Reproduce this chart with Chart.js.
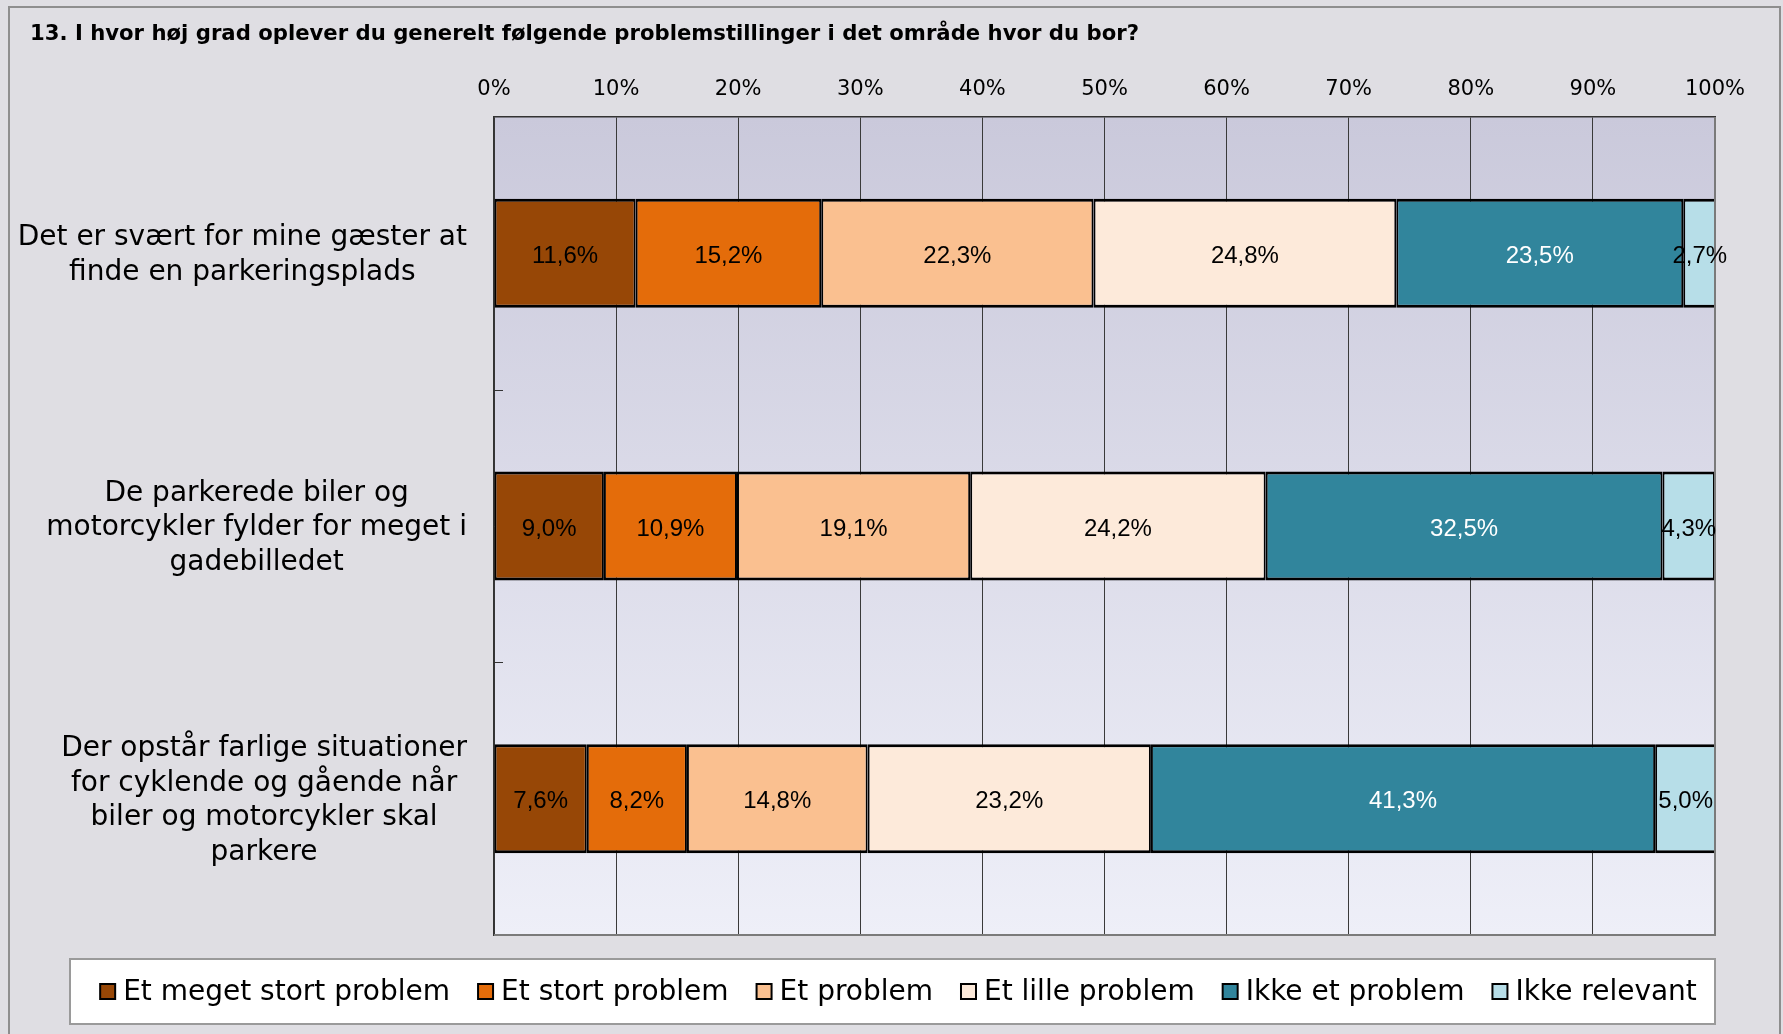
<!DOCTYPE html>
<html>
<head>
<meta charset="utf-8">
<script src="https://cdn.jsdelivr.net/npm/chart.js@4.4.1/dist/chart.umd.min.js"></script>
<style>
  html, body { margin: 0; padding: 0; background: #dfdee3; }
  #wrap { width: 1783px; height: 1034px; }
</style>
</head>
<body>
<div id="wrap"><canvas id="chart" width="1783" height="1034"></canvas></div>
<script>
const title = '13. I hvor høj grad oplever du generelt følgende problemstillinger i det område hvor du bor?';

const categories = [
  ['Det er svært for mine gæster at', 'finde en parkeringsplads'],
  ['De parkerede biler og', 'motorcykler fylder for meget i', 'gadebilledet'],
  ['Der opstår farlige situationer', 'for cyklende og gående når', 'biler og motorcykler skal', 'parkere']
];

const seriesNames = ['Et meget stort problem', 'Et stort problem', 'Et problem', 'Et lille problem', 'Ikke et problem', 'Ikke relevant'];
const seriesColors = ['#974706', '#e46c0a', '#fac090', '#fdeada', '#31859c', '#b7dee8'];
const labelColors = ['#000', '#000', '#000', '#000', '#fff', '#000'];

const meget = [11.6, 9.0, 7.6];
const stort = [15.2, 10.9, 8.2];
const problem = [22.3, 19.1, 14.8];
const lille = [24.8, 24.2, 23.2];
const ikke = [23.5, 32.5, 41.3];
const relevant = [2.7, 4.3, 5.0];
const seriesValues = [meget, stort, problem, lille, ikke, relevant];

const xTicks = [0, 10, 20, 30, 40, 50, 60, 70, 80, 90, 100];

const fmt = v => v.toFixed(1).replace('.', ',') + '%';

// background, frame, plot gradient
const backdrop = {
  id: 'backdrop',
  beforeDraw(chart) {
    const { ctx, chartArea: a, width, height } = chart;
    ctx.save();
    ctx.fillStyle = '#dfdee3';
    ctx.fillRect(0, 0, width, height);
    ctx.strokeStyle = '#8e8e8e';
    ctx.lineWidth = 2;
    ctx.strokeRect(9, 7, 1771, height + 10);
    const g = ctx.createLinearGradient(0, a.top, 0, a.bottom);
    g.addColorStop(0, '#cac9db');
    g.addColorStop(1, '#eeeff8');
    ctx.fillStyle = g;
    ctx.fillRect(a.left, a.top, a.right - a.left, a.bottom - a.top);
    // title
    ctx.fillStyle = '#000';
    ctx.font = 'bold 21.2px "DejaVu Sans"';
    ctx.textBaseline = 'middle';
    ctx.textAlign = 'left';
    ctx.fillText(title, 30, 34);
    ctx.restore();
  },
  afterDraw(chart) {
    const { ctx, chartArea: a, scales } = chart;
    ctx.save();
    // right and bottom plot edges
    ctx.strokeStyle = '#7a7a7a';
    ctx.lineWidth = 2;
    ctx.beginPath();
    ctx.moveTo(a.right, a.top);
    ctx.lineTo(a.right, a.bottom);
    ctx.lineTo(a.left, a.bottom);
    ctx.stroke();
    // inner ticks between categories
    const y = scales.y;
    ctx.strokeStyle = '#333';
    ctx.lineWidth = 1;
    for (let i = 1; i < categories.length; i++) {
      const yy = Math.round((y.getPixelForValue(i - 1) + y.getPixelForValue(i)) / 2) + 0.5;
      ctx.beginPath();
      ctx.moveTo(a.left, yy);
      ctx.lineTo(a.left + 9, yy);
      ctx.stroke();
    }
    // category labels: block right-aligned, lines centred in the block
    ctx.font = '28px "DejaVu Sans"';
    ctx.fillStyle = '#000';
    ctx.textAlign = 'center';
    ctx.textBaseline = 'middle';
    const lh = 34.5;
    categories.forEach((lines, i) => {
      const w = Math.max(...lines.map(l => ctx.measureText(l).width));
      const cx = a.left - 27 - w / 2;
      const cy = y.getPixelForValue(i) + 2;
      lines.forEach((l, j) => {
        ctx.fillText(l, cx, cy + (j - (lines.length - 1) / 2) * lh);
      });
    });
    // data labels
    ctx.font = '24px "Liberation Sans"';
    chart.data.datasets.forEach((ds, di) => {
      const meta = chart.getDatasetMeta(di);
      ctx.fillStyle = labelColors[di];
      meta.data.forEach((bar, i) => {
        const p = bar.getProps(['x', 'y', 'base'], true);
        ctx.fillText(fmt(ds.data[i]), (p.x + p.base) / 2, p.y + 3);
      });
    });
    // legend
    const lx0 = 70, ly0 = 959, lx1 = 1715, ly1 = 1024;
    ctx.fillStyle = '#ffffff';
    ctx.fillRect(lx0, ly0, lx1 - lx0, ly1 - ly0);
    ctx.strokeStyle = '#9a9a9a';
    ctx.lineWidth = 2;
    ctx.strokeRect(lx0, ly0, lx1 - lx0, ly1 - ly0);
    ctx.font = '28px "DejaVu Sans"';
    const box = 15, gapBox = 8, gapItem = 28;
    const widths = seriesNames.map(n => ctx.measureText(n).width);
    const total = widths.reduce((s, w) => s + box + gapBox + w, 0) + gapItem * (seriesNames.length - 1);
    let x = (lx0 + lx1) / 2 - total / 2 + 6;
    const ly = (ly0 + ly1) / 2;
    ctx.textAlign = 'left';
    seriesNames.forEach((n, i) => {
      ctx.fillStyle = seriesColors[i];
      ctx.fillRect(x, ly - box / 2, box, box);
      ctx.strokeStyle = '#000';
      ctx.lineWidth = 2;
      ctx.strokeRect(x, ly - box / 2, box, box);
      ctx.fillStyle = '#000';
      ctx.fillText(n, x + box + gapBox, ly + 1);
      x += box + gapBox + widths[i] + gapItem;
    });
    ctx.restore();
  }
};

new Chart(document.getElementById('chart'), {
  type: 'bar',
  data: {
    labels: categories,
    datasets: seriesNames.map((name, i) => ({
      label: name,
      data: seriesValues[i],
      backgroundColor: seriesColors[i],
      borderColor: '#000',
      borderWidth: { top: 3, bottom: 3, left: 2, right: 2 },
      borderSkipped: false,
      categoryPercentage: 1,
      barPercentage: 0.4
    }))
  },
  options: {
    indexAxis: 'y',
    responsive: false,
    animation: false,
    layout: { padding: { left: 0, right: 68, top: 0, bottom: 99 } },
    plugins: {
      legend: { display: false },
      title: { display: false },
      tooltip: { enabled: false }
    },
    scales: {
      x: {
        position: 'top',
        stacked: true,
        min: 0,
        max: 100,
        afterBuildTicks: s => { s.ticks = xTicks.map(v => ({ value: v })); },
        afterFit: s => { s.height = 117; },
        ticks: {
          callback: v => v + '%',
          color: '#000',
          padding: 15,
          maxRotation: 0,
          font: { family: 'DejaVu Sans', size: 21 }
        },
        grid: { color: '#3a3a3a', lineWidth: 1, drawTicks: false },
        border: { color: '#333', width: 1.5 }
      },
      y: {
        stacked: true,
        afterFit: s => { s.width = 494; },
        ticks: { display: false },
        grid: { display: false },
        border: { color: '#333', width: 1.5 }
      }
    }
  },
  plugins: [backdrop]
});
</script>
</body>
</html>
